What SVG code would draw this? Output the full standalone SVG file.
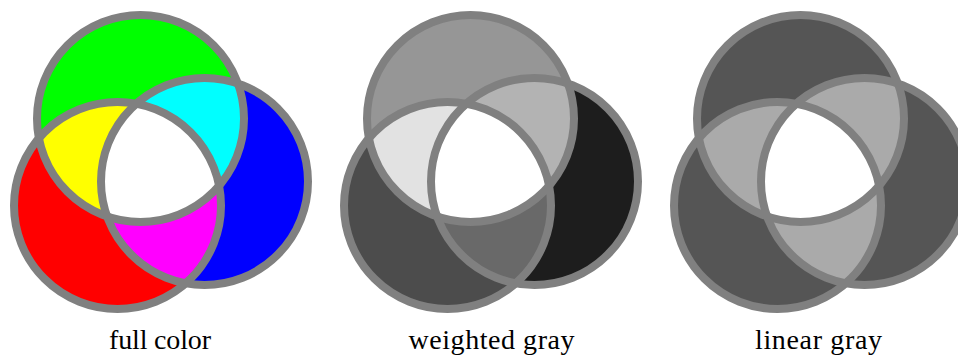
<svg xmlns="http://www.w3.org/2000/svg" xmlns:xlink="http://www.w3.org/1999/xlink" width="958" height="358" viewBox="0 0 958 358">
<style>
.ring{fill:none;stroke:#808080;stroke-width:8}
.lbl{font-family:"Liberation Serif","DejaVu Serif",serif;font-size:28px;fill:#000;text-anchor:middle}
</style>
<defs>
<circle id="cG" cx="140.5" cy="118.5" r="103.5"/>
<circle id="cR" cx="117.5" cy="205.5" r="103.5"/>
<circle id="cB" cx="204.5" cy="181.5" r="103.5"/>
<clipPath id="clipG"><use xlink:href="#cG"/></clipPath>
<clipPath id="clipR"><use xlink:href="#cR"/></clipPath>
<clipPath id="clipB"><use xlink:href="#cB"/></clipPath>
<g id="rings">
<use xlink:href="#cG" class="ring"/>
<use xlink:href="#cR" class="ring"/>
<use xlink:href="#cB" class="ring"/>
</g>
</defs>
<rect width="958" height="358" fill="#fff"/>

<g id="full-color">
<use xlink:href="#cG" fill="#00ff00"/>
<use xlink:href="#cR" fill="#ff0000"/>
<use xlink:href="#cB" fill="#0000ff"/>
<g clip-path="url(#clipG)"><use xlink:href="#cR" fill="#ffff00"/><use xlink:href="#cB" fill="#00ffff"/></g>
<g clip-path="url(#clipR)"><use xlink:href="#cB" fill="#ff00ff"/></g>
<g clip-path="url(#clipR)"><g clip-path="url(#clipB)"><use xlink:href="#cG" fill="#ffffff"/></g></g>
<use xlink:href="#rings"/>
<text class="lbl" x="160" y="349" textLength="102" lengthAdjust="spacing">full color</text>
</g>

<g id="weighted-gray" transform="translate(330,0)">
<use xlink:href="#cG" fill="#969696"/>
<use xlink:href="#cR" fill="#4c4c4c"/>
<use xlink:href="#cB" fill="#1d1d1d"/>
<g clip-path="url(#clipG)"><use xlink:href="#cR" fill="#e2e2e2"/><use xlink:href="#cB" fill="#b3b3b3"/></g>
<g clip-path="url(#clipR)"><use xlink:href="#cB" fill="#696969"/></g>
<g clip-path="url(#clipR)"><g clip-path="url(#clipB)"><use xlink:href="#cG" fill="#ffffff"/></g></g>
<use xlink:href="#rings"/>
<text class="lbl" x="161.5" y="349" textLength="166" lengthAdjust="spacing">weighted gray</text>
</g>

<g id="linear-gray" transform="translate(660,0)">
<use xlink:href="#cG" fill="#555555"/>
<use xlink:href="#cR" fill="#555555"/>
<use xlink:href="#cB" fill="#555555"/>
<g clip-path="url(#clipG)"><use xlink:href="#cR" fill="#aaaaaa"/><use xlink:href="#cB" fill="#aaaaaa"/></g>
<g clip-path="url(#clipR)"><use xlink:href="#cB" fill="#aaaaaa"/></g>
<g clip-path="url(#clipR)"><g clip-path="url(#clipB)"><use xlink:href="#cG" fill="#ffffff"/></g></g>
<use xlink:href="#rings"/>
<text class="lbl" x="158.5" y="349" textLength="127" lengthAdjust="spacing">linear gray</text>
</g>
</svg>
